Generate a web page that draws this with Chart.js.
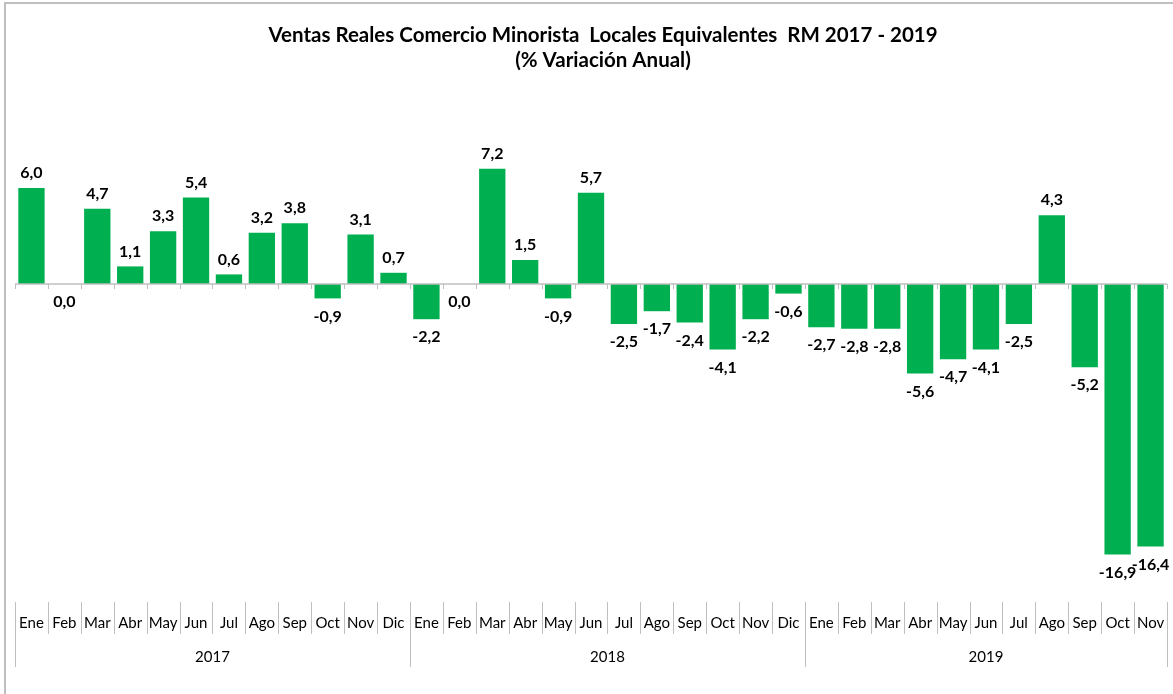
<!DOCTYPE html>
<html>
<head>
<meta charset="utf-8">
<script src="https://cdn.jsdelivr.net/npm/chart.js@4.4.1/dist/chart.umd.min.js"></script>
<style>
  html, body { margin: 0; padding: 0; background: #fff; }
  #wrap { width: 1173px; height: 694px; position: relative; }
</style>
</head>
<body>
<div id="wrap"><canvas id="c"></canvas></div>
<script>
// datos
const months = ['Ene','Feb','Mar','Abr','May','Jun','Jul','Ago','Sep','Oct','Nov','Dic',
                'Ene','Feb','Mar','Abr','May','Jun','Jul','Ago','Sep','Oct','Nov','Dic',
                'Ene','Feb','Mar','Abr','May','Jun','Jul','Ago','Sep','Oct','Nov'];
const years = ['2017','2018','2019'];
const yearCounts = [12, 12, 11];
const variacion = [6.0, 0.0, 4.7, 1.1, 3.3, 5.4, 0.6, 3.2, 3.8, -0.9, 3.1, 0.7,
                   -2.2, 0.0, 7.2, 1.5, -0.9, 5.7, -2.5, -1.7, -2.4, -4.1, -2.2, -0.6,
                   -2.7, -2.8, -2.8, -5.6, -4.7, -4.1, -2.5, 4.3, -5.2, -16.9, -16.4];
const titleLines = ['Ventas Reales Comercio Minorista  Locales Equivalentes  RM 2017 - 2019',
                    '(% Variación Anual)'];

const FONT = 'Lato, "Open Sans", sans-serif';
const GRID = '#bfbfbf';

/* titulo, marco, eje cero, etiquetas y tabla de categorias */
const decor = {
  id: 'decor',
  beforeDraw(chart) {
    const ctx = chart.ctx;
    ctx.save();
    ctx.strokeStyle = GRID; ctx.lineWidth = 2;
    ctx.beginPath();
    ctx.moveTo(5, 694); ctx.lineTo(5, 3); ctx.lineTo(1173, 3);
    ctx.stroke();
    ctx.fillStyle = '#000';
    ctx.font = 'bold 20.5px ' + FONT;
    ctx.textAlign = 'center'; ctx.textBaseline = 'middle';
    ctx.fillText(titleLines[0], 603, 35);
    ctx.fillText(titleLines[1], 603, 60);
    ctx.restore();
  },
  afterDatasetsDraw(chart) {
    const ctx = chart.ctx, x = chart.scales.x, y = chart.scales.y;
    const area = chart.chartArea;
    const y0 = y.getPixelForValue(0);
    const half = (x.getPixelForValue(1) - x.getPixelForValue(0)) / 2;
    ctx.save();
    // linea cero + ticks
    ctx.strokeStyle = GRID; ctx.lineWidth = 1.5;
    ctx.beginPath(); ctx.moveTo(area.left, y0); ctx.lineTo(area.right, y0); ctx.stroke();
    ctx.lineWidth = 1;
    ctx.beginPath();
    for (let i = 0; i <= months.length; i++) {
      const px = Math.round(x.getPixelForValue(i) - half) + 0.5;
      ctx.moveTo(px, y0); ctx.lineTo(px, y0 + 5);
    }
    ctx.stroke();
    // etiquetas de datos
    ctx.fillStyle = '#000';
    ctx.font = 'bold 16px ' + FONT;
    ctx.textAlign = 'center'; ctx.textBaseline = 'middle';
    const meta = chart.getDatasetMeta(0);
    variacion.forEach((v, i) => {
      const bar = meta.data[i];
      const txt = v.toFixed(1).replace('.', ',');
      const ty = v > 0 ? y.getPixelForValue(v) - 15 : y.getPixelForValue(v) + 18;
      ctx.fillText(txt, bar.x, ty);
    });
    // tabla de categorias
    ctx.strokeStyle = GRID; ctx.lineWidth = 1;
    ctx.font = '15px ' + FONT;
    ctx.beginPath();
    let start = 0;
    const yearBounds = [0];
    yearCounts.forEach(n => { start += n; yearBounds.push(start); });
    for (let i = 0; i <= months.length; i++) {
      const px = Math.round(x.getPixelForValue(i) - half) + 0.5;
      ctx.moveTo(px, 602);
      ctx.lineTo(px, yearBounds.includes(i) ? 667 : 634);
    }
    ctx.stroke();
    months.forEach((m, i) => ctx.fillText(m, x.getPixelForValue(i), 623));
    years.forEach((yr, k) => {
      const a = x.getPixelForValue(yearBounds[k]) - half;
      const b = x.getPixelForValue(yearBounds[k + 1]) - half;
      ctx.fillText(yr, (a + b) / 2, 657);
    });
    ctx.restore();
  }
};

new Chart(document.getElementById('c'), {
  type: 'bar',
  data: {
    labels: months.map((m, i) => m + i),
    datasets: [{ data: variacion, backgroundColor: '#00b050',
                 barPercentage: 0.8, categoryPercentage: 1.0 }]
  },
  options: {
    responsive: true, maintainAspectRatio: false, animation: false,
    layout: { padding: { left: 15, right: 6, top: 156, bottom: 122 } },
    plugins: { legend: { display: false }, title: { display: false }, tooltip: { enabled: false } },
    scales: {
      x: { display: false },
      y: { display: false, min: -18, max: 8 }
    }
  },
  plugins: [decor]
});
</script>
</body>
</html>
